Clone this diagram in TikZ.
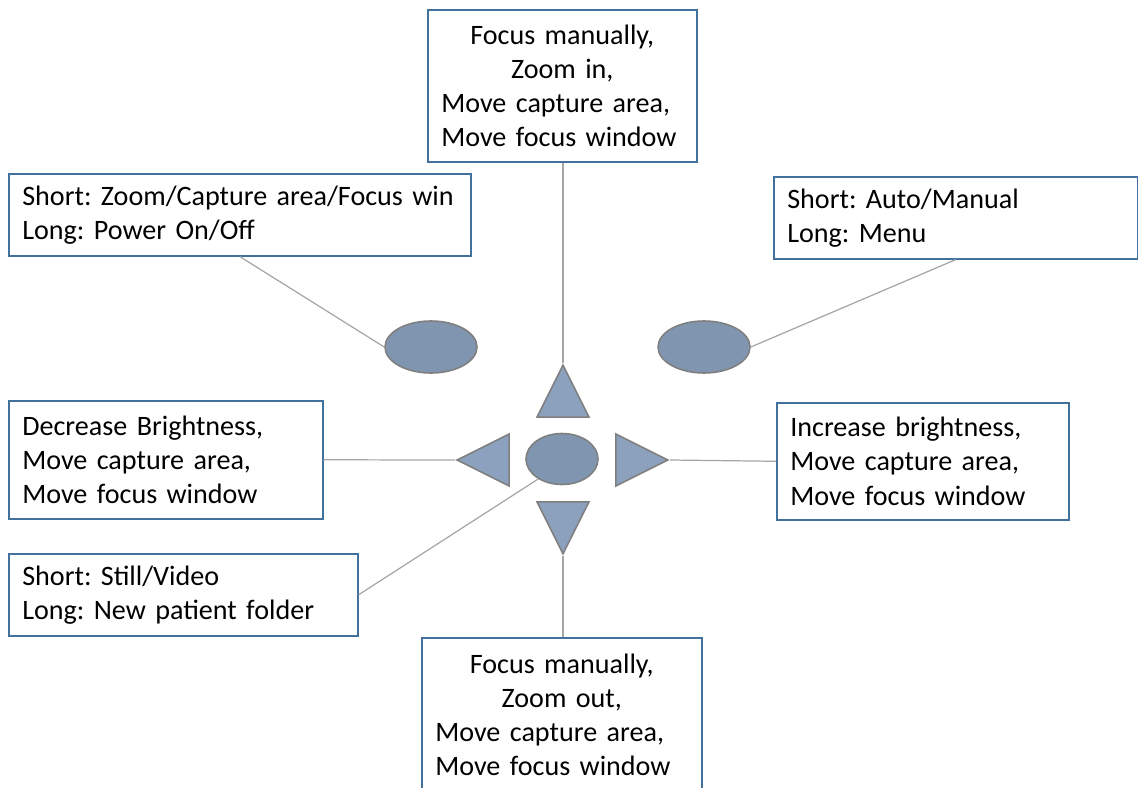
\documentclass[tikz,border=0pt]{standalone}
\usepackage{fontspec}
\setmainfont{Carlito}
\usetikzlibrary{shapes.geometric}
\definecolor{rahmen}{HTML}{41719C}
\definecolor{knopf}{HTML}{8096B0}
\definecolor{pfeil}{HTML}{8CA1BE}
\definecolor{kante}{HTML}{7F7F7F}
\definecolor{linie}{HTML}{A6A6A6}

\begin{document}
\begin{tikzpicture}[y=-1cm,
        every node/.style={font=\fontsize{16}{19.4}\selectfont\frenchspacing},
        infobox/.style={draw=rahmen, line width=0.9pt, rectangle, anchor=north west, inner xsep=0.27cm, inner ysep=0pt, align=left},
        knopfform/.style={draw=kante, line width=0.9pt, ellipse, fill=knopf, inner sep=0pt},
        pfeilform/.style={draw=kante, line width=0.9pt, isosceles triangle, isosceles triangle stretches, fill=pfeil, inner sep=0pt, minimum width=1.04cm, minimum height=1.04cm, anchor=apex},
        every edge/.style={draw=linie, line width=0.7pt}]
        \useasboundingbox (0, 0) rectangle (22.76, 15.74);

        \node[infobox, align=center, text width=4.84cm, minimum height=3.04cm] (ZI) at (8.54, 0.18) {Focus manually,\\ Zoom in,\\ \makebox[4.84cm][l]{Move capture area,}\\ \makebox[4.84cm][l]{Move focus window}};

        \node[infobox, text width=8.70cm, minimum height=1.64cm] (PWR) at (0.16, 3.46) {Short: Zoom/Capture area/Focus win\\ Long: Power On/Off};

        \node[infobox, text width=6.74cm, minimum height=1.64cm] (MODE) at (15.46, 3.52) {Short: Auto/Manual\\ Long: Menu};

        \node[infobox, text width=5.74cm, minimum height=2.36cm] (DEC) at (0.16, 8.00) {Decrease Brightness,\\ Move capture area,\\ Move focus window};

        \node[infobox, text width=5.30cm, minimum height=2.34cm] (INC) at (15.52, 8.04) {Increase brightness,\\ Move capture area,\\ Move focus window};

        \node[infobox, text width=6.44cm, minimum height=1.64cm] (STILL) at (0.16, 11.06) {Short: Still/Video\\ Long: New patient folder};

        \node[infobox, align=center, text width=5.06cm, minimum height=3.08cm] (ZO) at (8.42, 12.74) {Focus manually,\\ Zoom out,\\ \makebox[5.06cm][l]{Move capture area,}\\ \makebox[5.06cm][l]{Move focus window}};

        \node[knopfform, minimum width=1.84cm, minimum height=1.04cm] (KL) at (8.62, 6.94) {};

        \node[knopfform, minimum width=1.84cm, minimum height=1.04cm] (KR) at (14.08, 6.94) {};

        \node[knopfform, minimum width=1.44cm, minimum height=1.02cm] (KM) at (11.24, 9.18) {};

        \node[pfeilform, shape border rotate=90] (AUF) at (11.26, 7.26) {};

        \node[pfeilform, shape border rotate=270] (AB) at (11.26, 11.12) {};

        \node[pfeilform, shape border rotate=180] (LI) at (9.10, 9.20) {};

        \node[pfeilform, shape border rotate=0] (RE) at (13.40, 9.20) {};


        \path (ZI.south -| AUF.apex) edge (AUF.apex);
        \path (PWR.south) edge (KL.west);
        \path (MODE.south) edge (KR.east);
        \path (DEC.east) edge (LI.apex);
        \path (RE.apex) edge (INC.west);
        \path (STILL.east) edge (KM.220);
        \path (AB.apex) edge (ZO.north -| AB.apex);

    \end{tikzpicture}
\end{document}
